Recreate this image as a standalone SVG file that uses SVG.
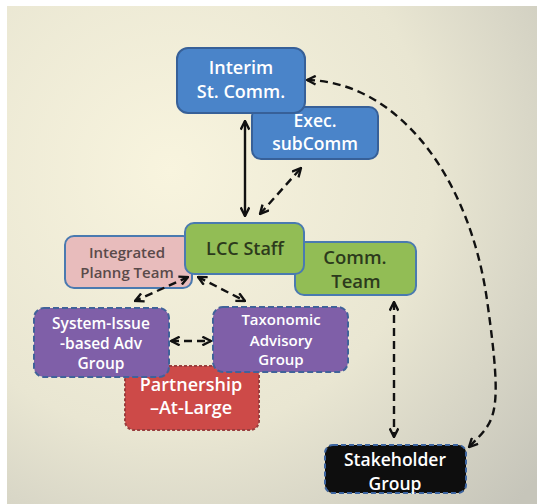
<svg xmlns="http://www.w3.org/2000/svg" width="537" height="504" viewBox="0 0 537 504">
<defs>
<radialGradient id="bg" cx="170" cy="170" r="480" gradientUnits="userSpaceOnUse">
<stop offset="0" stop-color="#f8f4de"/>
<stop offset="0.55" stop-color="#e9e6d2"/>
<stop offset="1" stop-color="#c6c5ba"/>
</radialGradient>
<marker id="ah" viewBox="0 0 10 10" refX="9" refY="5" markerWidth="4.5" markerHeight="4.5" orient="auto-start-reverse" markerUnits="strokeWidth">
<path d="M1,1 L9,5 L1,9" fill="none" stroke="#111" stroke-width="2.2"/>
</marker>
</defs>
<style>
.box{stroke-width:2}
.blue{fill:#4a84c9;stroke:#376098}
.green{fill:#92bd55;stroke:#4a7ab0}
.pink{fill:#e8bcbc;stroke:#4a7ab0}
.purple{fill:#7f5fa8;stroke:#41629a;stroke-dasharray:6 3}
.red{fill:#cd4a48;stroke:#9a3e3e;stroke-dasharray:3 2}
.black{fill:#0e0e0e;stroke:#3d65a0;stroke-dasharray:5 3}
text{font-family:"Open Sans","Liberation Sans",sans-serif;text-anchor:middle;font-weight:600}
.w{fill:#ffffff}
.d{fill:#2c3a1c}
.g{fill:#5a4a4a}
.c{fill:none;stroke:#111;stroke-width:2.4}
.dash{stroke-dasharray:8 5}
</style>
<rect x="0" y="0" width="537" height="504" fill="#ffffff"/>
<rect x="7" y="6" width="530" height="498" fill="url(#bg)"/>

<g id="exec">
<rect class="box blue" x="252" y="107" width="126" height="52" rx="9"/>
<text class="w" x="315" y="127" font-size="17.5">Exec.</text>
<text class="w" x="315" y="150" font-size="17.5">subComm</text>
</g>
<g id="interim">
<rect class="box blue" x="177" y="48" width="128" height="65" rx="11"/>
<text class="w" x="241" y="74" font-size="18">Interim</text>
<text class="w" x="241" y="98" font-size="18">St. Comm.</text>
</g>

<g id="integrated">
<rect class="box pink" x="65" y="236" width="127" height="52" rx="9"/>
<text class="g" x="127" y="258" font-size="15">Integrated</text>
<text class="g" x="127" y="278" font-size="15">Planng Team</text>
</g>
<g id="comm">
<rect class="box green" x="295" y="242" width="121" height="53" rx="9"/>
<text class="d" x="355" y="264" font-size="18.5">Comm.</text>
<text class="d" x="356" y="288" font-size="18.5">Team</text>
</g>
<g id="lcc">
<rect class="box green" x="185" y="223" width="119" height="51" rx="9"/>
<text class="d" x="245" y="255" font-size="18">LCC Staff</text>
</g>

<g id="partnership">
<rect class="box red" x="125" y="366" width="134" height="64" rx="9"/>
<text class="w" x="191" y="391" font-size="18">Partnership</text>
<text class="w" x="191" y="414" font-size="18">–At-Large</text>
</g>
<g id="system">
<rect class="box purple" x="34" y="308" width="135" height="69" rx="10"/>
<text class="w" x="101" y="329" font-size="15.5">System-Issue</text>
<text class="w" x="101" y="349" font-size="15.5">-based  Adv</text>
<text class="w" x="101" y="369" font-size="15.5">Group</text>
</g>
<g id="taxonomic">
<rect class="box purple" x="213" y="307" width="135" height="65" rx="10"/>
<text class="w" x="281" y="325" font-size="15">Taxonomic</text>
<text class="w" x="281" y="346" font-size="15">Advisory</text>
<text class="w" x="281" y="365" font-size="15">Group</text>
</g>

<g id="stakeholder">
<rect class="box black" x="325" y="445" width="141" height="48" rx="8"/>
<text class="w" x="395" y="466" font-size="17.5">Stakeholder</text>
<text class="w" x="395" y="490" font-size="17.5">Group</text>
</g>

<g id="connectors">
<line class="c" x1="245" y1="121" x2="245" y2="216" marker-start="url(#ah)" marker-end="url(#ah)"/>
<line class="c dash" x1="260" y1="214" x2="301" y2="168" marker-start="url(#ah)" marker-end="url(#ah)"/>
<path class="c dash" d="M307,80 C400,82 470,180 487,300 S495,420 469,447" marker-start="url(#ah)" marker-end="url(#ah)"/>
<line class="c dash" x1="394" y1="302" x2="394" y2="437" marker-start="url(#ah)" marker-end="url(#ah)"/>
<line class="c dash" x1="188" y1="277" x2="135" y2="301" marker-start="url(#ah)" marker-end="url(#ah)"/>
<line class="c dash" x1="198" y1="277" x2="245" y2="301" marker-start="url(#ah)" marker-end="url(#ah)"/>
<line class="c dash" x1="171" y1="341" x2="211" y2="341" marker-start="url(#ah)" marker-end="url(#ah)"/>
</g>
</svg>
